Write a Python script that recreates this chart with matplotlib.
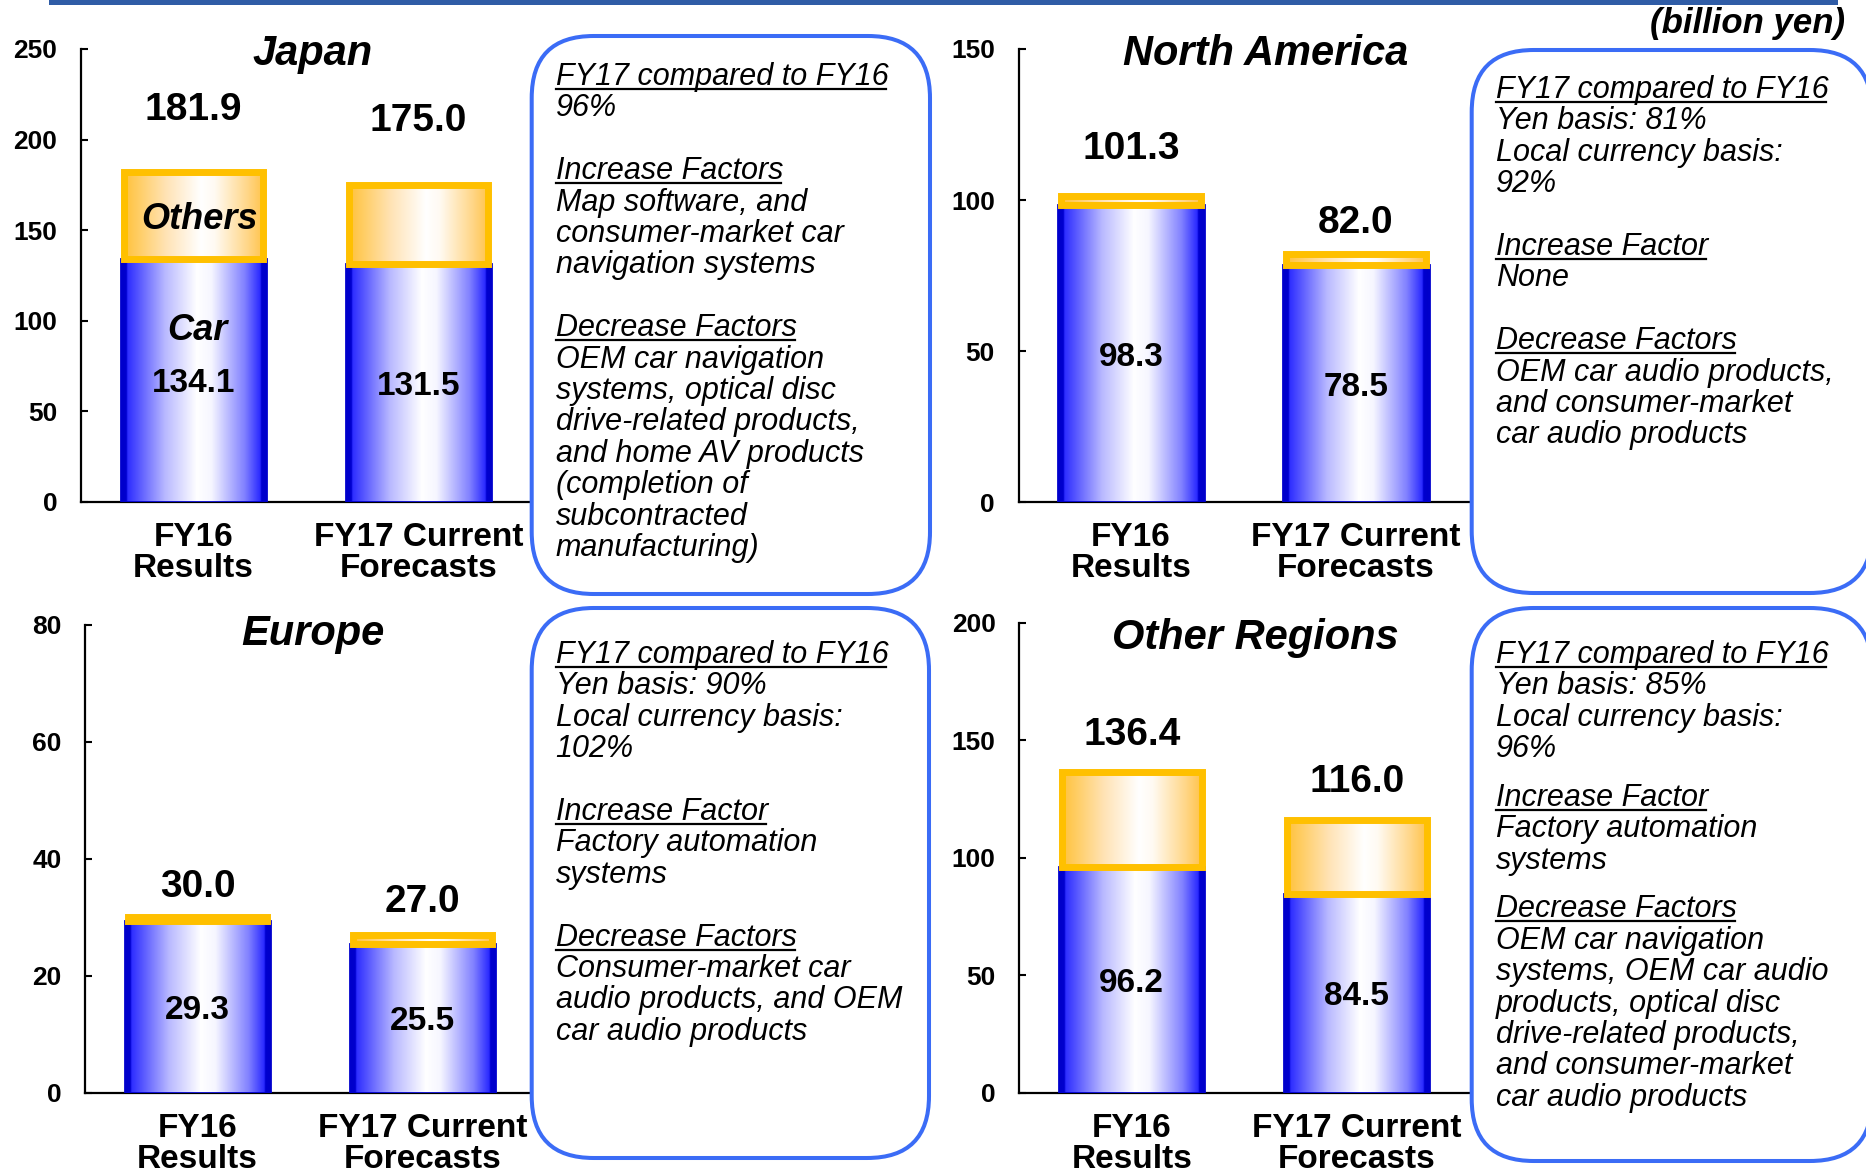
import numpy as np
import matplotlib
matplotlib.use("Agg")
import matplotlib.pyplot as plt
from matplotlib.colors import LinearSegmentedColormap
from matplotlib.patches import FancyBboxPatch, Rectangle

plt.rcParams['font.family'] = ['Liberation Sans', 'DejaVu Sans']

W, H = 1866, 1173

# sales by region (billion yen)
periods = ["FY16\nResults", "FY17 Current\nForecasts"]

japan_car = [134.1, 131.5]
japan_total = [181.9, 175.0]
na_car = [98.3, 78.5]
na_total = [101.3, 82.0]
europe_car = [29.3, 25.5]
europe_total = [30.0, 27.0]
other_car = [96.2, 84.5]
other_total = [136.4, 116.0]

japan_notes = ["FY17 compared to FY16", "96%", "",
               "Increase Factors", "Map software, and", "consumer-market car",
               "navigation systems", "",
               "Decrease Factors", "OEM car navigation", "systems, optical disc",
               "drive-related products,", "and home AV products",
               "(completion of", "subcontracted", "manufacturing)"]
na_notes = ["FY17 compared to FY16", "Yen basis: 81%", "Local currency basis:",
            "92%", "",
            "Increase Factor", "None", "",
            "Decrease Factors", "OEM car audio products,",
            "and consumer-market", "car audio products"]
europe_notes = ["FY17 compared to FY16", "Yen basis: 90%", "Local currency basis:",
                "102%", "",
                "Increase Factor", "Factory automation", "systems", "",
                "Decrease Factors", "Consumer-market car",
                "audio products, and OEM", "car audio products"]
other_notes = ["FY17 compared to FY16", "Yen basis: 85%", "Local currency basis:",
               "96%", "",
               "Increase Factor", "Factory automation", "systems", "",
               "Decrease Factors", "OEM car navigation", "systems, OEM car audio",
               "products, optical disc", "drive-related products,",
               "and consumer-market", "car audio products"]
headers = {"FY17 compared to FY16", "Increase Factors", "Increase Factor",
           "Decrease Factors"}

# layout in pixels: axes (left, top, right, bottom), title (x, baseline),
# label offsets above the bars, note box (x0, y0, x1, y1), first baseline, blank size
panels = [
    dict(title="Japan", car=japan_car, total=japan_total, ymax=250, step=50,
         axes=(81, 49, 531, 501.7), title_xy=(313, 65), offs=(62, 64),
         notes=japan_notes, box=(531.7, 36, 930, 594), first=85, blank=1.0),
    dict(title="North America", car=na_car, total=na_total, ymax=150, step=50,
         axes=(1018.5, 49, 1468.5, 502.3), title_xy=(1266, 65), offs=(47.5, 31.5),
         notes=na_notes, box=(1471.7, 50, 1872, 593), first=98, blank=1.0),
    dict(title="Europe", car=europe_car, total=europe_total, ymax=80, step=20,
         axes=(85, 625, 535, 1092.7), title_xy=(313, 645), offs=(30, 32.5),
         notes=europe_notes, box=(531.7, 608, 929, 1158), first=663, blank=1.0),
    dict(title="Other Regions", car=other_car, total=other_total, ymax=200, step=50,
         axes=(1019.3, 622.7, 1469.3, 1092.7), title_xy=(1255, 649), offs=(37.5, 38.5),
         notes=other_notes, box=(1471.7, 608, 1872, 1161), first=663, blank=0.55),
]

blue_cmap = LinearSegmentedColormap.from_list("blue_bar", [
    (0.0, '#0000c8'), (0.035, '#0000d0'), (0.045, '#2e2eff'), (0.3, '#b8b8ff'),
    (0.52, '#ffffff'), (0.62, '#f6f6ff'), (0.85, '#8080ff'), (0.955, '#2a2aff'),
    (0.965, '#0000d0'), (1.0, '#0000c8')])
orange_cmap = LinearSegmentedColormap.from_list("orange_bar", [
    (0.0, '#ffc23a'), (0.3, '#ffe3b5'), (0.55, '#ffffff'), (0.65, '#fffaf2'),
    (0.88, '#ffd78a'), (1.0, '#ffc34a')])
grad = np.linspace(0, 1, 256).reshape(1, -1)


def px_rect(l, t, r, b):
    return [l / W, 1 - b / H, (r - l) / W, (b - t) / H]


def fill_gradient(ax, bars, cmap):
    for p in bars:
        x0, y0 = p.get_x(), p.get_y()
        ax.imshow(grad, cmap=cmap, aspect='auto', interpolation='bilinear',
                  extent=[x0, x0 + p.get_width(), y0, y0 + p.get_height()],
                  zorder=2)


def label(ax, x, y, s, dx=0, dy=0, **kw):
    # dx, dy in pixels
    ax.annotate(s, (x, y), xytext=(dx * 0.72, dy * 0.72), textcoords='offset points',
                ha='center', va='center', fontweight='bold', zorder=6, **kw)


fig = plt.figure(figsize=(W / 100, H / 100), dpi=100)

for pan in panels:
    ax = fig.add_axes(px_rect(*pan['axes']))
    ax.patch.set_alpha(0)
    x = np.arange(len(periods))
    car = np.array(pan['car'])
    total = np.array(pan['total'])
    others = total - car

    car_bars = ax.bar(x, car, width=0.645, facecolor='none', edgecolor='#0000cc',
                      linewidth=2, zorder=3)
    oth_bars = ax.bar(x, others, bottom=car, width=0.62, facecolor='none',
                      edgecolor='#ffc000', linewidth=5, zorder=4)
    fill_gradient(ax, car_bars, blue_cmap)
    fill_gradient(ax, oth_bars, orange_cmap)

    ax.set_xlim(-0.5, 1.5)
    ax.set_ylim(0, pan['ymax'])
    for s in ['top', 'right']:
        ax.spines[s].set_visible(False)
    for s in ['left', 'bottom']:
        ax.spines[s].set_linewidth(1.6)
    ax.spines['bottom'].set_zorder(1)

    ax.set_yticks(np.arange(0, pan['ymax'] + 1, pan['step']))
    ax.tick_params(axis='y', direction='in', length=5, width=1.5, pad=17,
                   labelsize=19)
    ax.set_xticks(x)
    ax.set_xticklabels(periods, fontsize=24, fontweight='bold', linespacing=1.0)
    ax.tick_params(axis='x', length=0, pad=14.5)
    for lab in ax.get_yticklabels():
        lab.set_fontweight('bold')

    for i in x:
        label(ax, i, total[i], f"{total[i]:.1f}", dy=pan['offs'][i], fontsize=28)
        label(ax, i, car[i] / 2, f"{car[i]:.1f}", dy=-3.5, fontsize=24)

    if pan['title'] == "Japan":
        label(ax, 0, car[0] / 2, "Car", dx=4, dy=49.5, fontsize=26, style='italic')
        label(ax, 0, (car[0] + total[0]) / 2, "Others", dx=6, dy=-3.5,
              fontsize=26, style='italic')

# overlay in pixel coordinates for the frame, titles and note boxes
ov = fig.add_axes([0, 0, 1, 1], zorder=10)
ov.set_xlim(0, W)
ov.set_ylim(H, 0)
ov.axis('off')
ov.patch.set_alpha(0)

ov.add_patch(Rectangle((49, 0), 1789, 5, facecolor='#2f5ca6', edgecolor='none'))
ov.text(1845, 33, "(billion yen)", ha='right', va='baseline', fontsize=25,
        fontweight='bold', style='italic')

step = 31.4
header_texts = []
for pan in panels:
    tx, ty = pan['title_xy']
    ov.text(tx, ty, pan['title'], ha='center', va='baseline', fontsize=30,
            fontweight='bold', style='italic')

    x0, y0, x1, y1 = pan['box']
    ov.add_patch(FancyBboxPatch((x0, y0), x1 - x0, y1 - y0,
                                boxstyle="round,pad=0,rounding_size=62",
                                facecolor='white', edgecolor='#3b6cf6',
                                linewidth=2.9, clip_on=False))
    y = pan['first']
    for line in pan['notes']:
        if line == "":
            y += step * pan['blank']
            continue
        t = ov.text(x0 + 24, y, line, ha='left', va='baseline', fontsize=22,
                    style='italic')
        if line in headers:
            header_texts.append((t, y))
        y += step

fig.canvas.draw()
inv = ov.transData.inverted()
for t, y in header_texts:
    bb = t.get_window_extent()
    (ux0, _), (ux1, _) = inv.transform([[bb.x0, bb.y0], [bb.x1, bb.y0]])
    ov.plot([ux0, ux1 - 2], [y + 4, y + 4], color='black', linewidth=1.6)

fig.savefig("out.png", dpi=100)
